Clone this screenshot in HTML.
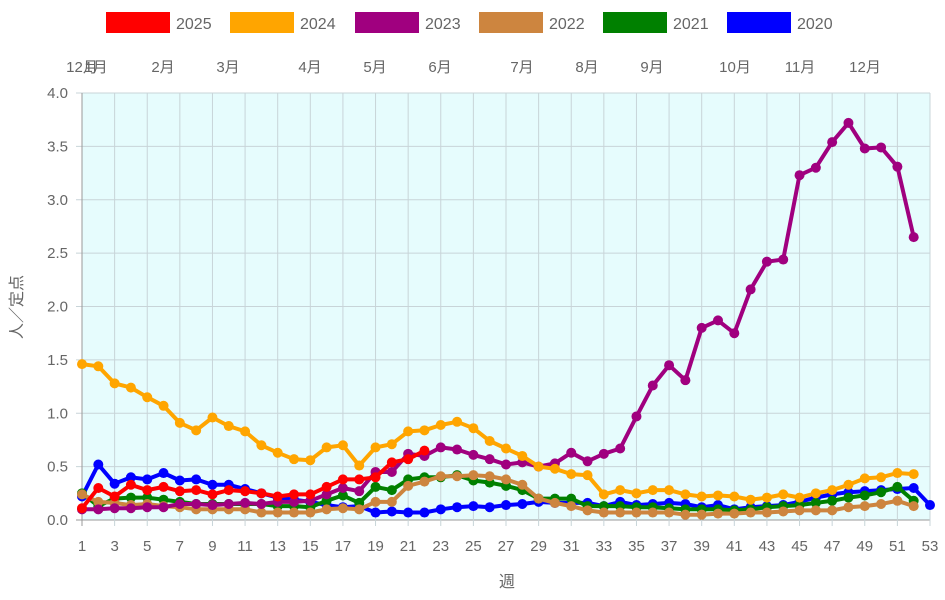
<!DOCTYPE html><html><head><meta charset="utf-8"><style>body{margin:0;background:#fff;}svg{display:block;font-family:"Liberation Sans","Noto Sans CJK JP",sans-serif;}</style></head><body>
<svg id="c" width="945" height="600" xmlns="http://www.w3.org/2000/svg"></svg>
<script>
const s=document.getElementById('c');const NS='http://www.w3.org/2000/svg';
function el(t,a,txt){const e=document.createElementNS(NS,t);for(const k in a)e.setAttribute(k,a[k]);if(txt!=null)e.textContent=txt;s.appendChild(e);return e;}
const X0=82,X1=930,Y0=520,YT=93;const dx=(X1-X0)/52,dy=(Y0-YT)/4;
const X=w=>X0+(w-1)*dx,Y=v=>Y0-v*dy;
el('rect',{x:X0,y:YT,width:X1-X0,height:Y0-YT,fill:'#e6fcfd'});
for(let i=0;i<=8;i++){const y=Y(i*0.5);el('line',{x1:X0-6,x2:X1,y1:y,y2:y,stroke:i==0?'#999':'#c8d4d8','stroke-width':1});el('text',{x:X0-14,y:y+5,'text-anchor':'end','font-size':15,fill:'#666'},(i*0.5).toFixed(1));}
for(let w=1;w<=53;w+=2){const x=X(w);el('line',{x1:x,x2:x,y1:YT,y2:Y0+6,stroke:w==1?'#999':'#c8d4d8','stroke-width':1});el('text',{x:x,y:551,'text-anchor':'middle','font-size':15,fill:'#666'},w);}
[['12月',82],['1月',96],['2月',163],['3月',228],['4月',310],['5月',375],['6月',440],['7月',522],['8月',587],['9月',652],['10月',735],['11月',800],['12月',865]].forEach(m=>el('text',{x:m[1],y:72,'text-anchor':'middle','font-size':15,fill:'#666'},m[0]));
el('text',{x:507,y:587,'text-anchor':'middle','font-size':16,fill:'#666'},'週');
el('text',{x:0,y:0,transform:'translate(22,307) rotate(-90)','text-anchor':'middle','font-size':16,fill:'#666'},'人／定点');
const D={
'blue':[0.22,0.52,0.34,0.40,0.38,0.44,0.37,0.38,0.33,0.33,0.29,0.25,0.21,0.19,0.17,0.14,0.12,0.13,0.07,0.08,0.07,0.07,0.10,0.12,0.13,0.12,0.14,0.15,0.17,0.16,0.16,0.16,0.13,0.17,0.14,0.15,0.16,0.15,0.12,0.14,0.10,0.12,0.13,0.14,0.17,0.21,0.24,0.26,0.27,0.28,0.29,0.30,0.14],
'green':[0.25,0.13,0.20,0.21,0.21,0.19,0.17,0.15,0.15,0.15,0.15,0.15,0.13,0.13,0.12,0.18,0.23,0.16,0.31,0.28,0.38,0.40,0.40,0.42,0.37,0.35,0.32,0.28,0.20,0.20,0.20,0.13,0.13,0.13,0.12,0.12,0.11,0.10,0.10,0.10,0.09,0.10,0.12,0.13,0.14,0.16,0.18,0.21,0.23,0.26,0.31,0.18],
'#cd853f':[0.24,0.17,0.16,0.14,0.15,0.13,0.12,0.10,0.10,0.10,0.10,0.07,0.07,0.07,0.07,0.10,0.11,0.10,0.17,0.17,0.32,0.36,0.41,0.41,0.42,0.41,0.38,0.33,0.20,0.16,0.13,0.09,0.07,0.07,0.07,0.07,0.07,0.05,0.05,0.06,0.06,0.07,0.07,0.08,0.09,0.09,0.09,0.12,0.13,0.15,0.18,0.13],
'#a0007f':[0.10,0.10,0.11,0.11,0.12,0.12,0.15,0.15,0.14,0.15,0.16,0.15,0.17,0.17,0.18,0.24,0.30,0.27,0.45,0.45,0.62,0.60,0.68,0.66,0.61,0.57,0.52,0.54,0.50,0.53,0.63,0.55,0.62,0.67,0.97,1.26,1.45,1.31,1.80,1.87,1.75,2.16,2.42,2.44,3.23,3.30,3.54,3.72,3.48,3.49,3.31,2.65],
'orange':[1.46,1.44,1.28,1.24,1.15,1.07,0.91,0.84,0.96,0.88,0.83,0.70,0.63,0.57,0.56,0.68,0.70,0.51,0.68,0.71,0.83,0.84,0.89,0.92,0.86,0.74,0.67,0.60,0.50,0.48,0.43,0.42,0.24,0.28,0.25,0.28,0.28,0.24,0.22,0.23,0.22,0.19,0.21,0.24,0.21,0.25,0.28,0.33,0.39,0.40,0.44,0.43],
'red':[0.11,0.30,0.22,0.33,0.28,0.31,0.27,0.28,0.24,0.28,0.27,0.25,0.22,0.24,0.24,0.31,0.38,0.38,0.40,0.54,0.57,0.65]};
for(const c in D){const d=D[c];el('polyline',{points:d.map((v,i)=>X(i+1).toFixed(1)+','+Y(v).toFixed(1)).join(' '),fill:'none',stroke:c,'stroke-width':4,'stroke-linejoin':'round'});d.forEach((v,i)=>el('circle',{cx:X(i+1),cy:Y(v),r:5,fill:c}));}
[['red','2025',106],['orange','2024',230],['#a0007f','2023',355],['#cd853f','2022',479],['green','2021',603],['blue','2020',727]].forEach(l=>{el('rect',{x:l[2],y:12,width:64,height:21,fill:l[0]});el('text',{x:l[2]+70,y:29,'font-size':16,fill:'#666'},l[1]);});
</script></body></html>
